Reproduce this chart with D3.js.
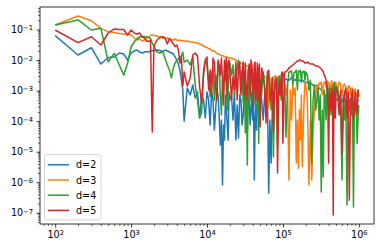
<!DOCTYPE html>
<html>
<head>
<meta charset="utf-8">
<script src="https://cdn.jsdelivr.net/npm/d3@7"></script>
<style>
  body { margin: 0; background: #fff; }
  text { font-family: "DejaVu Sans", sans-serif; }
</style>
</head>
<body>
<svg id="chart"></svg>
<script>
// x positions shared by all four series
const xValues = [
    100, 200, 300, 400, 500, 600, 700, 800, 900, 1000,
    1100, 1200, 1300, 1400, 1500, 1600, 1700, 1800, 1900, 2000,
    2200, 2400, 2600, 2800, 3000, 3200, 3400, 3600, 3800, 4000, 4200, 4400, 4600, 4800, 5000,
    5500, 6000, 6500, 7000, 7500, 8000, 8500, 9000, 9500, 10000,
    10500, 11000, 11500, 12000, 12500, 13000, 13500, 14000, 14500, 15000,
    15500, 16000, 16500, 17000, 17500, 18000, 18500, 19000, 19500, 20000,
    21000, 22000, 23000, 24000, 25000, 26000, 27000, 28000, 29000, 30000,
    31000, 32000, 33000, 34000, 35000, 36000, 37000, 38000, 39000, 40000,
    41000, 42000, 43000, 44000, 45000, 46000, 47000, 48000, 49000, 50000,
    52500, 55000, 57500, 60000, 62500, 65000, 67500, 70000, 72500, 75000,
    77500, 80000, 82500, 85000, 87500, 90000, 92500, 95000, 97500, 100000,
    105000, 110000, 115000, 120000, 125000, 130000, 135000, 140000, 145000, 150000,
    155000, 160000, 165000, 170000, 175000, 180000, 185000, 190000, 195000, 200000,
    210000, 220000, 230000, 240000, 250000, 260000, 270000, 280000, 290000, 300000,
    310000, 320000, 330000, 340000, 350000, 360000, 370000, 380000, 390000, 400000,
    410000, 420000, 430000, 440000, 450000, 460000, 470000, 480000, 490000, 500000,
    525000, 550000, 575000, 600000, 625000, 650000, 675000, 700000, 725000, 750000,
    775000, 800000, 825000, 850000, 875000, 900000, 925000, 950000, 975000, 1000000
];

const seriesD2 = [
    0.063, 0.0146, 0.0253, 0.0074, 0.0121, 0.0126, 0.017, 0.0158, 0.01, 0.017,
    0.0198, 0.0213, 0.0183, 0.017, 0.0183, 0.019, 0.0183, 0.0198, 0.0205, 0.0198,
    0.0213, 0.0205, 0.019, 0.0213, 0.0198, 0.0183, 0.017, 0.0158, 0.0126, 0.01, 0.0074, 0.0047, 0.0022, 0.00105, 1.0e-4,
    0.00122, 7.2e-4, 0.00152, 5.7e-4, 9.0e-4, 1.27e-4, 7.2e-4, 4.9e-4, 1.27e-4, 9.0e-4,
    4.9e-4, 7.5e-5, 9.0e-4, 4.9e-4, 5.1e-5, 2.3e-4, 0.00105, 7.2e-4, 1.27e-4, 1.66e-5,
    1.09e-4, 8.1e-7, 7.5e-5, 2.4e-5, 7.2e-4, 2.3e-4, 7.5e-5, 2.4e-5, 9.0e-4, 4.9e-4,
    7.2e-4, 1.09e-4, 9.0e-4, 2.4e-5, 3.4e-4, 2.8e-5, 7.2e-4, 4.9e-4, 7.5e-5, 1.6e-4,
    9.0e-4, 7.2e-4, 2.3e-4, 5.1e-5, 9.0e-4, 4.9e-4, 7.5e-5, 2.3e-4, 9.0e-4, 1.09e-4,
    4.9e-4, 1.19e-6, 1.09e-4, 3.4e-4, 5.1e-5, 4.9e-4, 9.0e-4, 1.6e-4, 7.5e-5, 0.00105,
    4.9e-4, 1.09e-4, 7.2e-4, 2.3e-4, 9.0e-4, 4.4e-7, 1.09e-4, 4.3e-6, 2.3e-4, 7.2e-4,
    0.00105, 0.00122, 0.00141, 0.00152, 0.00164, 0.0019, 0.0018, 0.00164, 0.0021, 0.0022,
    0.0022, 0.0024, 0.0022, 0.0022, 0.0024, 0.0026, 0.0024, 0.0022, 0.0022, 0.0024,
    0.0022, 0.0022, 0.0022, 0.0021, 0.0021, 0.0022, 0.0021, 0.0019, 0.0019, 0.0018,
    0.0019, 0.0019, 0.0018, 0.00164, 0.00152, 0.00141, 0.00141, 0.00152, 0.00131, 0.00122,
    0.00113, 0.00105, 9.7e-4, 9.0e-4, 7.8e-4, 7.2e-4, 6.2e-4, 4.9e-4, 6.2e-4, 7.2e-4,
    4.9e-4, 5.7e-4, 6.7e-4, 4.9e-4, 4.2e-4, 6.7e-4, 6.2e-4, 5.7e-4, 4.9e-4, 4.9e-4,
    4.9e-4, 5.7e-4, 4.9e-4, 4.2e-4, 5.7e-4, 5.7e-4, 3.9e-4, 4.9e-4, 4.9e-4, 3.6e-4,
    5.7e-4, 4.9e-4, 3.6e-4, 4.2e-4, 4.9e-4, 4.9e-4, 3.9e-4, 3.6e-4, 4.9e-4, 4.9e-4
];

const seriesD3 = [
    0.14, 0.277, 0.193, 0.109, 0.085, 0.08, 0.074, 0.0712, 0.0686, 0.066,
    0.0527, 0.0453, 0.0489, 0.042, 0.0453, 0.0527, 0.0568, 0.0636, 0.066, 0.0636,
    0.0612, 0.0568, 0.0527, 0.0508, 0.0527, 0.0489, 0.047, 0.0453, 0.0489, 0.0453, 0.0436, 0.0453, 0.042, 0.0436, 0.042,
    0.042, 0.039, 0.039, 0.0375, 0.0361, 0.0335, 0.0311, 0.0288, 0.0267, 0.0257,
    0.0239, 0.023, 0.0205, 0.0198, 0.0198, 0.0183, 0.0164, 0.0152, 0.0158, 0.0146,
    0.0136, 0.0141, 0.0136, 0.0131, 0.0121, 0.0126, 0.0126, 0.0121, 0.0117, 0.0117,
    0.0117, 0.0112, 0.0104, 0.01, 0.0093, 0.0086, 0.0086, 0.008, 0.0074, 0.0074,
    0.0072, 0.0069, 0.0064, 0.0064, 0.0064, 0.0059, 0.0055, 0.0055, 0.0051, 0.0047,
    0.0047, 0.0044, 0.0041, 0.0041, 0.0041, 0.0038, 0.0035, 0.0035, 0.0035, 0.0032,
    0.0032, 0.0032, 0.003, 0.0026, 0.0022, 2.7e-4, 0.0026, 4.9e-4, 0.00105, 0.0028,
    0.003, 0.003, 0.0028, 0.0028, 7.2e-4, 0.0024, 0.0024, 0.0022, 0.0019, 0.0022,
    0.0019, 7.2e-4, 0.00152, 1.19e-6, 0.00105, 1.09e-4, 0.00152, 7.2e-4, 0.00122, 4.3e-6,
    1.09e-4, 2.9e-6, 2.3e-4, 2.4e-5, 7.2e-4, 3.2e-6, 5.1e-5, 4.9e-4, 0.0018, 0.00152,
    4.9e-4, 8.1e-7, 1.09e-4, 1.19e-6, 5.1e-5, 2.3e-4, 7.2e-4, 0.00152, 0.00105, 0.0018,
    0.00164, 0.0019, 7.2e-4, 0.00152, 0.0019, 0.0019, 0.00122, 0.0021, 0.0018, 0.0019,
    0.00152, 0.00105, 0.00164, 0.0021, 7.2e-4, 0.00164, 0.0019, 0.0019, 0.00122, 0.0018,
    0.00105, 0.0019, 0.00164, 7.2e-4, 0.00152, 0.00164, 0.00122, 4.9e-4, 0.00141, 0.00141,
    7.2e-4, 0.00122, 0.00122, 5.7e-4, 0.00105, 0.00113, 4.9e-4, 7.2e-4, 0.00105, 9.0e-4
];

const seriesD4 = [
    0.14, 0.205, 0.0963, 0.109, 0.0088, 0.0166, 0.0069, 0.0032, 0.008, 0.0267,
    0.039, 0.0508, 0.0568, 0.059, 0.059, 0.0568, 0.0548, 0.0508, 0.0361, 0.0288,
    0.0183, 0.017, 0.0187, 0.0117, 0.0069, 0.0047, 0.0026, 0.0055, 0.008, 0.01, 0.0108, 0.0126, 0.0136, 0.0183, 0.0086,
    0.01, 0.0069, 0.0126, 0.00152, 4.9e-4, 1.27e-4, 1.85e-4, 0.0047, 0.01, 0.0069,
    0.0022, 6.2e-4, 0.0032, 0.0059, 4.9e-4, 0.0032, 0.00152, 0.008, 0.0047, 7.2e-4,
    1.6e-4, 0.0022, 7.2e-4, 0.0059, 0.0047, 0.00105, 2.3e-4, 0.00131, 0.0032, 0.008,
    0.0032, 0.0069, 7.2e-4, 0.0028, 0.0055, 0.01, 0.0041, 0.00105, 0.0047, 3.9e-4,
    0.0032, 4.1e-5, 0.00152, 3.7e-6, 0.0047, 0.0022, 4.9e-4, 0.0047, 0.0041, 7.2e-4,
    0.0022, 0.0041, 4.9e-4, 2.3e-4, 0.0026, 0.0032, 0.00105, 1.9e-5, 0.003, 0.0022,
    7.2e-4, 0.0041, 0.00152, 4.9e-4, 0.0026, 0.0032, 7.2e-4, 2.3e-4, 0.0026, 6.7e-6,
    4.9e-4, 0.0026, 0.0022, 1.43e-5, 0.0028, 0.003, 0.00105, 4.9e-4, 0.0032, 0.0038,
    0.0022, 3.0e-5, 0.00152, 0.0041, 0.0041, 0.0044, 0.00152, 0.0038, 0.0041, 0.0047,
    0.00105, 0.0044, 0.0041, 0.0047, 0.0019, 0.0041, 0.0041, 0.0044, 0.0022, 0.0041,
    0.0032, 0.00105, 0.0022, 4.3e-6, 4.9e-4, 0.00152, 2.3e-4, 4.9e-4, 0.00122, 1.09e-4,
    7.2e-4, 4.8e-7, 2.3e-4, 1.5e-6, 0.00105, 4.9e-4, 1.09e-4, 0.00105, 0.00152, 2.3e-4,
    0.00105, 7.2e-4, 1.6e-4, 0.00105, 4.9e-4, 0.00152, 7.2e-4, 0.0018, 2.3e-4, 0.00131,
    0.00122, 4.9e-4, 7.2e-4, 1.19e-6, 7.2e-4, 1.09e-4, 4.9e-4, 1.8e-7, 7.2e-4, 2.3e-4,
    4.9e-4, 1.6e-4, 5.7e-4, 1.55e-7, 4.9e-4, 2.3e-4, 3.4e-4, 1.9e-5, 1.09e-4, 3.4e-4
];

const seriesD5 = [
    0.0963, 0.037, 0.058, 0.0311, 0.0768, 0.104, 0.1, 0.1, 0.066, 0.0963,
    0.0768, 0.0712, 0.0768, 0.0568, 0.0527, 0.042, 0.0405, 0.0453, 4.4e-5, 0.0288,
    0.0453, 0.0548, 0.058, 0.0527, 0.0335, 0.0508, 0.042, 0.0335, 0.0277, 0.0311, 0.0213, 0.008, 0.0126, 0.00141, 0.0041,
    0.00141, 0.0026, 0.0146, 0.017, 0.0136, 0.00131, 3.9e-4, 0.0032, 0.01, 0.0126,
    0.00105, 0.0047, 7.2e-4, 0.0117, 0.0086, 0.00131, 4.9e-4, 0.01, 0.0069, 0.0032,
    0.0117, 0.0018, 3.4e-4, 0.01, 0.0022, 0.0117, 7.2e-4, 0.0086, 0.01, 0.0047,
    4.9e-4, 0.0028, 0.00105, 0.0086, 4.9e-4, 0.0055, 0.0086, 7.2e-4, 0.0032, 0.0086,
    7.2e-4, 0.008, 4.9e-4, 0.00105, 0.0047, 0.0074, 7.2e-4, 0.01, 0.0069, 0.00152,
    3.4e-4, 0.0069, 0.0086, 4.9e-4, 0.00152, 0.008, 4.9e-4, 0.0047, 0.0074, 6.4e-5,
    0.0055, 0.0032, 0.00105, 8.7e-5, 0.0041, 0.0047, 4.9e-4, 7.2e-4, 0.0026, 4.4e-5,
    0.00152, 0.0026, 0.0022, 2.0e-6, 4.9e-4, 0.0019, 7.2e-4, 0.0032, 0.0041, 1.9e-5,
    0.0041, 0.0041, 0.0047, 0.0055, 0.0059, 0.0064, 0.0069, 0.0074, 0.008, 0.0086,
    0.0093, 0.0093, 0.01, 0.01, 0.0093, 0.0093, 0.0093, 0.0086, 0.008, 0.008,
    0.0086, 0.008, 0.0074, 0.0074, 0.0074, 0.0069, 0.0064, 0.0064, 0.0064, 0.0059,
    0.0055, 0.0051, 0.0047, 0.0041, 0.0032, 0.0028, 0.0022, 0.00152, 4.9e-4, 4.3e-6,
    0.00122, 4.9e-4, 2.3e-4, 0.00122, 7.2e-4, 8.5e-8, 0.00105, 2.3e-4, 1.27e-4, 0.00122,
    9.0e-4, 1.6e-4, 0.00105, 9.1e-6, 2.3e-4, 9.0e-4, 0.00122, 1.27e-4, 9.0e-4, 2.6e-7,
    2.3e-4, 7.2e-4, 0.00105, 1.09e-4, 3.4e-4, 9.0e-4, 1.6e-4, 2.0e-4, 0.00105, 6.2e-4
];

const seriesNames = ["d=2", "d=3", "d=4", "d=5"];
const seriesColors = ["#1f77b4", "#ff7f0e", "#2ca02c", "#d62728"];
const xTickValues = [1e2, 1e3, 1e4, 1e5, 1e6];
const yTickValues = [1e-7, 1e-6, 1e-5, 1e-4, 1e-3, 1e-2, 1e-1];

var size = { width: 380, height: 252 };
var box = { left: 40, right: 374, top: 7, bottom: 224 };

var svg = d3.select("#chart")
    .attr("width", size.width)
    .attr("height", size.height);

var x = d3.scaleLog()
    .domain([63.1, 1.585e6])
    .range([box.left, box.right]);

var y = d3.scaleLog()
    .domain([4.3e-8, 0.545])
    .range([box.bottom, box.top]);

// minor ticks at 2..9 of every decade inside the domain
function minorTicks(scale) {
    var dom = scale.domain();
    var out = [];
    for (var e = Math.floor(Math.log10(dom[0])); e <= Math.ceil(Math.log10(dom[1])); e++) {
        for (var k = 2; k <= 9; k++) {
            var v = k * Math.pow(10, e);
            if (v >= dom[0] && v <= dom[1]) out.push(v);
        }
    }
    return out;
}

function powerLabel(sel) {
    sel.each(function(d) {
        var t = d3.select(this).text("");
        var e = Math.round(Math.log10(d));
        t.append("tspan").text("10");
        t.append("tspan")
            .attr("dy", "-0.42em")
            .attr("font-size", "0.7em")
            .text(e < 0 ? "\u2212" + (-e) : String(e));
    });
}

var defs = svg.append("defs");
defs.append("clipPath").attr("id", "plot-clip")
    .append("rect")
    .attr("x", box.left).attr("y", box.top)
    .attr("width", box.right - box.left).attr("height", box.bottom - box.top);

// lines
var line = d3.line()
    .x((d, i) => x(xValues[i]))
    .y(d => y(d));

var allSeries = [seriesD2, seriesD3, seriesD4, seriesD5];
svg.append("g")
    .attr("clip-path", "url(#plot-clip)")
    .selectAll(".series")
    .data(allSeries)
    .enter()
    .append("path")
    .attr("class", "series")
    .attr("d", d => line(d))
    .attr("fill", "none")
    .attr("stroke", (d, i) => seriesColors[i])
    .attr("stroke-width", 1.5)
    .attr("stroke-linejoin", "round");

// axes
var xMinor = svg.append("g")
    .attr("transform", "translate(0," + box.bottom + ")")
    .call(d3.axisBottom(x).tickValues(minorTicks(x)).tickSize(2).tickFormat(""));
var xMajor = svg.append("g")
    .attr("transform", "translate(0," + box.bottom + ")")
    .call(d3.axisBottom(x).tickValues(xTickValues).tickSize(3.5).tickPadding(3.5));
var yMinor = svg.append("g")
    .attr("transform", "translate(" + box.left + ",0)")
    .call(d3.axisLeft(y).tickValues(minorTicks(y)).tickSize(2).tickFormat(""));
var yMajor = svg.append("g")
    .attr("transform", "translate(" + box.left + ",0)")
    .call(d3.axisLeft(y).tickValues(yTickValues).tickSize(3.5).tickPadding(3.5));

[xMinor, xMajor, yMinor, yMajor].forEach(g => {
    g.select(".domain").remove();
    g.selectAll(".tick line").attr("stroke", "#000").attr("stroke-width", 0.8);
});
[xMinor, yMinor].forEach(g => g.selectAll(".tick line").attr("stroke-width", 0.6));

xMajor.selectAll(".tick text")
    .attr("font-size", 9.6).attr("fill", "#000").attr("font-family", "DejaVu Sans")
    .call(powerLabel);
yMajor.selectAll(".tick text")
    .attr("font-size", 9.6).attr("fill", "#000").attr("font-family", "DejaVu Sans")
    .call(powerLabel);

// frame
svg.append("rect")
    .attr("x", box.left).attr("y", box.top)
    .attr("width", box.right - box.left).attr("height", box.bottom - box.top)
    .attr("fill", "none")
    .attr("stroke", "#000")
    .attr("stroke-width", 0.8);

// legend
var legend = svg.append("g").attr("transform", "translate(44.5,154.5)");
legend.append("rect")
    .attr("width", 56.5).attr("height", 65.5)
    .attr("rx", 2.5)
    .attr("fill", "#fff").attr("fill-opacity", 0.8)
    .attr("stroke", "#cccccc").attr("stroke-width", 0.8);

var rows = legend.selectAll(".entry")
    .data(seriesNames)
    .enter()
    .append("g")
    .attr("class", "entry")
    .attr("transform", (d, i) => "translate(0," + (10.3 + i * 15.2) + ")");
rows.append("line")
    .attr("x1", 3.2).attr("x2", 24.5)
    .attr("stroke", (d, i) => seriesColors[i])
    .attr("stroke-width", 1.5);
rows.append("text")
    .attr("x", 31.5).attr("y", 3.5)
    .attr("font-size", 9.6)
    .attr("fill", "#000")
    .text(d => d);
</script>
</body>
</html>
